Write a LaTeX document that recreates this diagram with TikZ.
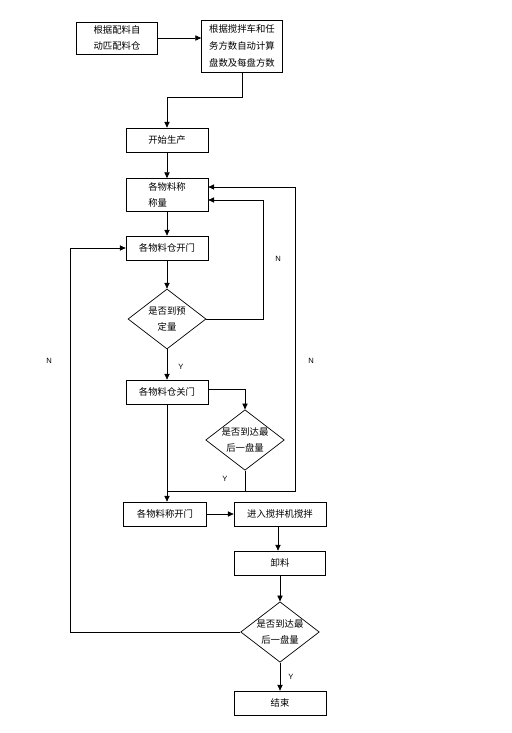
\documentclass[tikz,border=0pt]{standalone}
\usepackage{fontspec}
\setmainfont{Liberation Sans}
\newfontfamily\cjk{Noto Sans CJK SC}
\usetikzlibrary{shapes.geometric}
\usetikzlibrary{arrows.meta}
\usetikzlibrary{positioning}

\begin{document}
\begin{tikzpicture}[x=0.03cm,y=-0.03cm]
\tikzset{stepbox/.style={rectangle,draw,line width=0.6pt,minimum width=2.46cm,minimum height=0.72cm,inner sep=1pt,align=center,font=\cjk\fontsize{8}{13}\selectfont},
decision/.style={diamond,draw,line width=0.6pt,minimum width=2.34cm,minimum height=1.8cm,inner sep=0pt,aspect=1.3,align=center,font=\cjk\fontsize{8}{13.5}\selectfont},
flow/.style={line width=0.6pt,-{Triangle[length=5pt,width=4.5pt]}},
tag/.style={font=\fontsize{6.5}{7}\selectfont}}
\useasboundingbox (0,0) rectangle (512,733);
% top row
\node[stepbox,minimum width=2.43cm,minimum height=0.96cm](match) at (117,38){根据配料自\\动匹配料仓};
\node[stepbox,minimum width=2.43cm,minimum height=1.56cm,font=\cjk\fontsize{8}{14.5}\selectfont](calc) at (242,46){根据搅拌车和任\\务方数自动计算\\盘数及每盘方数};
% main column
\node[stepbox](start) at (167,140){开始生产};
\node[stepbox,minimum height=0.99cm,align=left](weigh) at (167,195){各物料称\\称量};
\node[stepbox](open) at (167,248){各物料仓开门};
\node[decision](check1) at (167,319){是否到预\\定量};
\node[stepbox](close) at (167,392){各物料仓关门};
\node[decision](check2) at (245,440){是否到达最\\后一盘量};
\node[stepbox,minimum width=2.49cm](weighopen) at (165,514){各物料称开门};
\node[stepbox,minimum width=2.76cm](mixer) at (280,514){进入搅拌机搅拌};
\node[stepbox,minimum width=2.73cm](unload) at (280,563){卸料};
\node[decision](check3) at (280,632){是否到达最\\后一盘量};
\node[stepbox,minimum width=2.76cm](finish) at (280,703){结束};
% labels
\node[tag](n1) at (278,259){N};
\node[tag](n2) at (311,361){N};
\node[tag](n3) at (49,361){N};
\node[tag](y1) at (181,367){Y};
\node[tag](y2) at (225,479){Y};
\node[tag](y3) at (291,677){Y};
% turning points
\coordinate (r1) at (263,200);
\coordinate (j) at (167,491);
\coordinate (r2) at (295,491);
\coordinate (r3) at (295,187);
\coordinate (l1) at (70,248);
% connectors
\draw[flow](match.east) -- (match.east -| calc.west);
\draw[flow](calc.south) -- ++(0,25) -| (start.north);
\draw[flow](start) -- (weigh);
\draw[flow](weigh) -- (open);
\draw[flow](open) -- (check1);
\draw[flow](check1.east) -| (r1) -- (weigh.east |- r1);
\draw[flow](check1) -- (close);
\draw[flow](close.east |- 0,389) -| (check2.north);
\draw[flow](close.south) -- (close.south |- weighopen.north);
\draw[line width=0.6pt](check2.south) -- (check2.south |- j);
\draw[flow](j) -- (r2) -- (r3) -- (weigh.east |- r3);
\draw[flow](weighopen) -- (mixer);
\draw[flow](mixer.south -| 278,0) -- (unload.north -| 278,0);
\draw[flow](unload) -- (check3);
\draw[flow](check3.west) -| (l1) -- (open.west);
\draw[flow](check3) -- (finish);
\end{tikzpicture}
\end{document}
